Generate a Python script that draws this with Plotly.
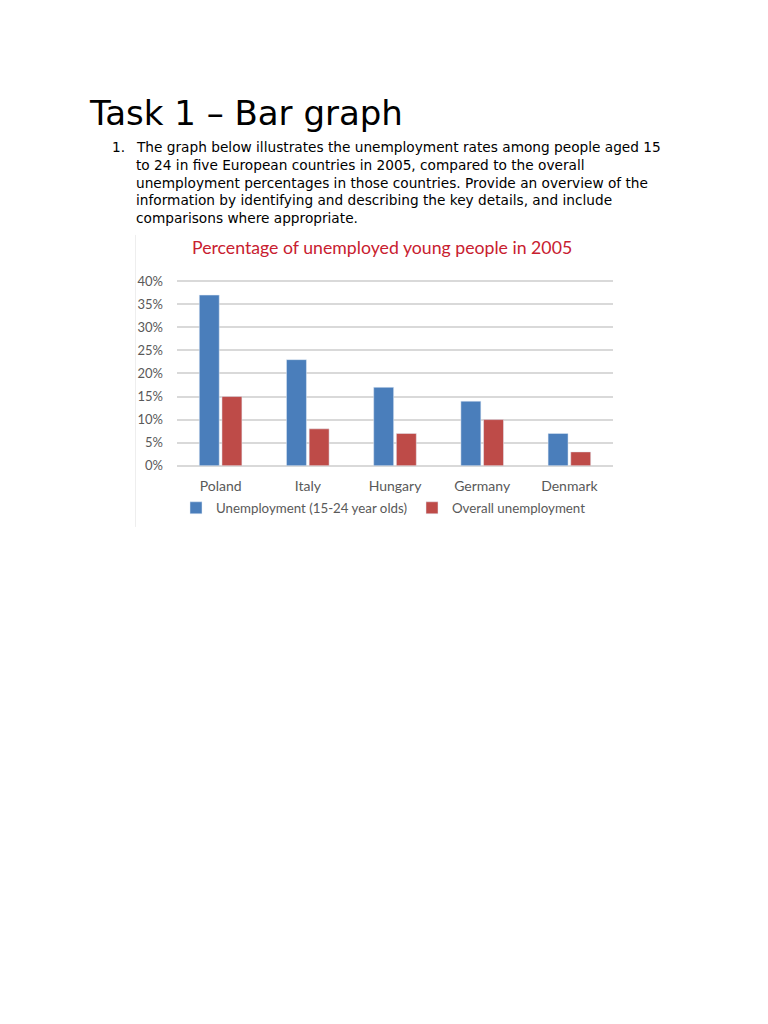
import plotly.graph_objects as go

countries = ["Poland", "Italy", "Hungary", "Germany", "Denmark"]
youth_rate = [37, 23, 17, 14, 7]
overall_rate = [15, 8, 7, 10, 3]
y_ticks = [0, 5, 10, 15, 20, 25, 30, 35, 40]
y_tick_labels = ["0%", "5%", "10%", "15%", "20%", "25%", "30%", "35%", "40%"]

W, H = 768, 1024
PAGE_MARGIN = 8  # the browser adds this around the plot div


def px_x(x):
    return (x - PAGE_MARGIN) / W


def px_y(y):
    return 1 - (y - PAGE_MARGIN) / H


paragraph = [
    "The graph below illustrates the unemployment rates among people aged 15",
    "to 24 in five European countries in 2005, compared to the overall",
    "unemployment percentages in those countries. Provide an overview of the",
    "information by identifying and describing the key details, and include",
    "comparisons where appropriate.",
]

fig = go.Figure()
fig.add_trace(go.Bar(
    x=countries, y=youth_rate, name="Unemployment (15-24 year olds)",
    marker=dict(color="#4a7ebb"),
))
fig.add_trace(go.Bar(
    x=countries, y=overall_rate, name="Overall unemployment",
    marker=dict(color="#be4b48"),
))


def note(text, x, y, size, family="DejaVu Sans", color="#000000", anchor="left"):
    return dict(text=text, x=px_x(x), y=px_y(y), xref="paper", yref="paper",
                xanchor=anchor, yanchor="middle", showarrow=False,
                font=dict(family=family, size=size, color=color))


annotations = [
    note("Task 1 \u2013 Bar graph", 87, 108, 34),
    note("1.", 110, 143, 13.7),
    note("Percentage of unemployed young people in 2005", 382, 245, 17.7,
         family="Lato", color="#c8202f", anchor="center"),
]
for i, line in enumerate(paragraph):
    annotations.append(note(line, 134, 143 + 18 * i, 13.7))

# range a little above 40 so the top grid line is drawn
fig.update_layout(
    width=W, height=H,
    margin=dict(l=0, r=0, t=0, b=0),
    paper_bgcolor="white", plot_bgcolor="white",
    barmode="group", bargap=0.48, bargroupgap=0.12,
    font=dict(family="Lato", color="#595959"),
    xaxis=dict(domain=[px_x(177), px_x(613)], showline=False,
               ticks="", tickfont=dict(size=14), anchor="y",
               ticklabelstandoff=10),
    yaxis=dict(domain=[px_y(466), px_y(276.6)], range=[0, 40.5],
               tickvals=y_ticks, ticktext=y_tick_labels,
               gridcolor="#d9d9d9", gridwidth=1.5, zeroline=True,
               zerolinecolor="#d9d9d9", zerolinewidth=1.5,
               tickfont=dict(size=13), ticks="", ticklabelstandoff=13),
    legend=dict(orientation="h", x=px_x(176), y=px_y(509),
                xanchor="left", yanchor="middle",
                font=dict(size=13.3, color="#595959"),
                itemwidth=30, traceorder="normal"),
    annotations=annotations,
    showlegend=True,
)
fig.add_shape(type="line", xref="paper", yref="paper",
              x0=px_x(135.5), x1=px_x(135.5), y0=px_y(232), y1=px_y(528),
              line=dict(color="#eeeeee", width=1))

fig.write_html("out.html")
